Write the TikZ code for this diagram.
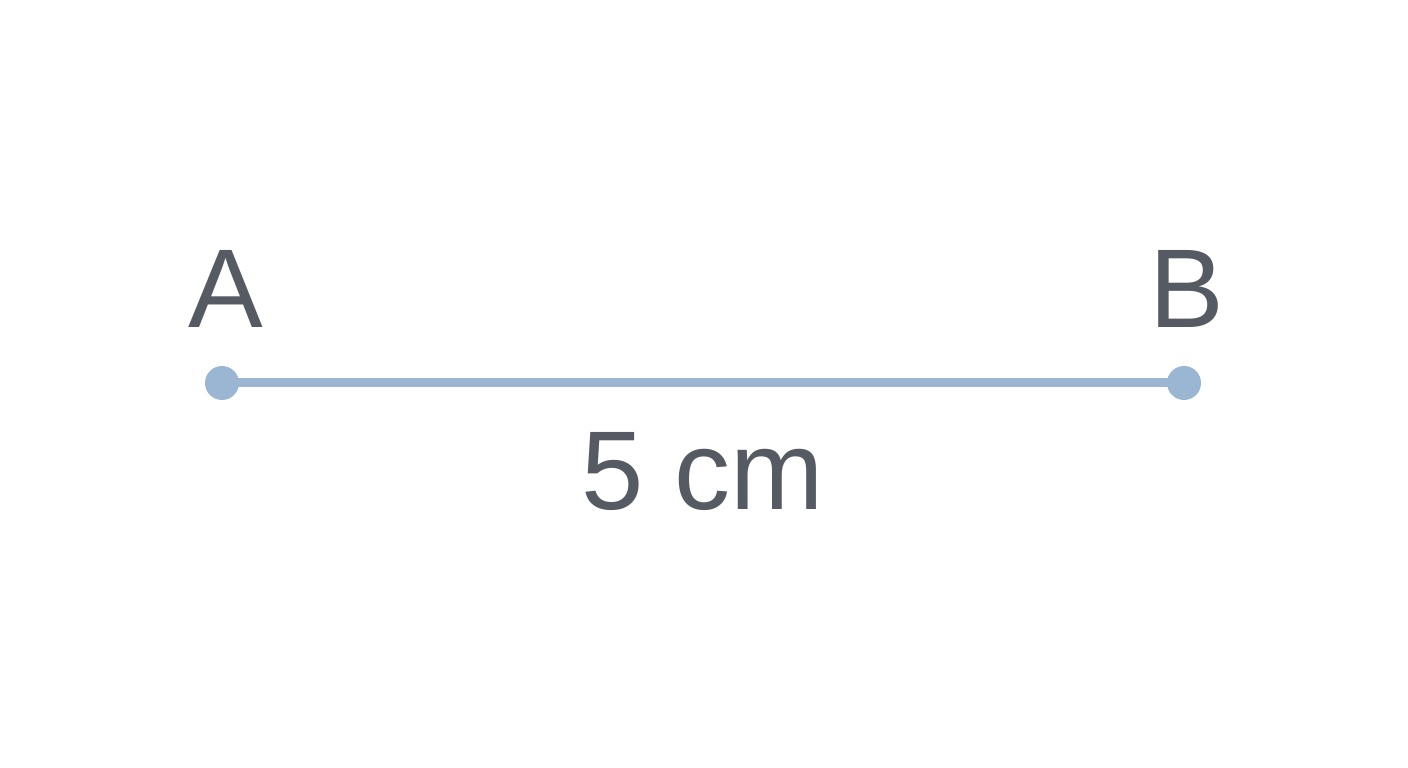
\documentclass[tikz,border=0pt]{standalone}
\usepackage{fontspec}
\setmainfont{Liberation Sans}
\definecolor{segblue}{HTML}{9AB6D2}
\definecolor{labelgray}{HTML}{565B63}

\begin{document}
\begin{tikzpicture}[x=1pt,y=1pt]

\tikzset{EndDot/.style = {circle, fill=segblue, minimum size=34pt, inner sep=0pt},
         PointLabel/.style = {text=labelgray, font=\fontsize{112}{112}\selectfont, anchor=base, inner sep=0pt}}

\useasboundingbox (0,0) rectangle (1408,768);

\node[EndDot] (A) at (222,385) {};
\node[EndDot] (B) at (1184,385) {};

\draw[segblue, line width=9pt] (A.center) -- (B.center);

\node[PointLabel] (labA) at (226,440) {A};
\node[PointLabel] (labB) at (1187,440) {B};
\node[PointLabel] (len) at (703,258) {5 cm};

\end{tikzpicture}
\end{document}
